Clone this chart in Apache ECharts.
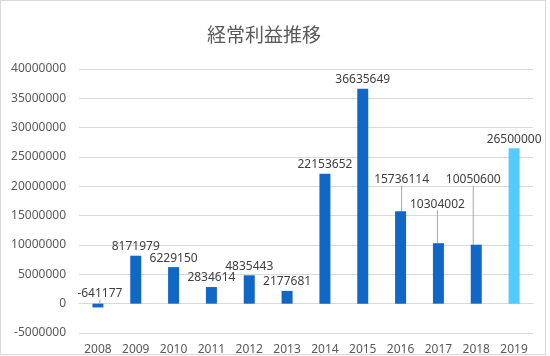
<!DOCTYPE html>
<html>
<head>
<meta charset="utf-8">
<script src="https://cdn.jsdelivr.net/npm/echarts@6/dist/echarts.min.js"></script>
<style>
html,body{margin:0;padding:0;background:#fff;}
#wrap{position:relative;width:550px;height:356px;}
#chart{width:550px;height:356px;}
#frame{position:absolute;left:0;top:0;width:546px;height:355px;box-sizing:border-box;border:1px solid #d9d9d9;pointer-events:none;}
</style>
</head>
<body>
<div id="wrap"><div id="chart"></div><div id="frame"></div></div>
<script>
const categories = ['2008','2009','2010','2011','2012','2013','2014','2015','2016','2017','2018','2019'];
const values = [-641177, 8171979, 6229150, 2834614, 4835443, 2177681, 22153652, 36635649, 15736114, 10304002, 10050600, 26500000];
const yTicks = { min: -5000000, max: 40000000, interval: 5000000 };
const highlightIndex = 11;
// label offsets (moved data labels with leader lines)
const labelShift = { 0: [2, -1], 8: [1, -23], 9: [-1, -30], 10: [-3, -56] };

const dark = '#1167c5', light = '#52cbff';
const data = values.map((v, i) => ({
  value: v,
  itemStyle: { color: i === highlightIndex ? light : dark },
  labelLine: { show: labelShift[i] !== undefined }
}));

const chart = echarts.init(document.getElementById('chart'), null, { renderer: 'canvas' });
chart.setOption({
  backgroundColor: '#fff',
  animation: false,
  title: {
    text: '経常利益推移',
    left: 202, top: 20,
    textStyle: { fontFamily: '"Noto Sans CJK JP"', fontSize: 19, fontWeight: 'normal', color: '#595959' }
  },
  grid: { left: 79, right: 17, top: 69, bottom: 18, containLabel: false },
  xAxis: {
    type: 'category',
    data: categories,
    axisLine: { onZero: true, lineStyle: { color: '#d9d9d9', width: 1 } },
    axisTick: { show: false },
    axisLabel: { color: '#595959', fontSize: 12, fontFamily: '"Noto Sans"', margin: 11 }
  },
  yAxis: {
    type: 'value',
    min: yTicks.min, max: yTicks.max, interval: yTicks.interval,
    axisLine: { show: false },
    axisTick: { show: false },
    splitLine: { lineStyle: { color: '#d9d9d9', width: 1 } },
    axisLabel: { color: '#595959', fontSize: 12, fontFamily: '"Noto Sans"', margin: 13, formatter: v => String(v) }
  },
  series: [{
    type: 'bar',
    data: data,
    barWidth: 11,
    label: {
      show: true, position: 'top', distance: 3,
      color: '#404040', fontSize: 12, fontFamily: '"Noto Sans"'
    },
    labelLine: { show: false, lineStyle: { color: '#a6a6a6', width: 1 } },
    labelLayout: function (p) {
      const s = labelShift[p.dataIndex];
      return s ? { dx: s[0], dy: s[1] } : {};
    }
  }]
});
</script>
</body>
</html>
